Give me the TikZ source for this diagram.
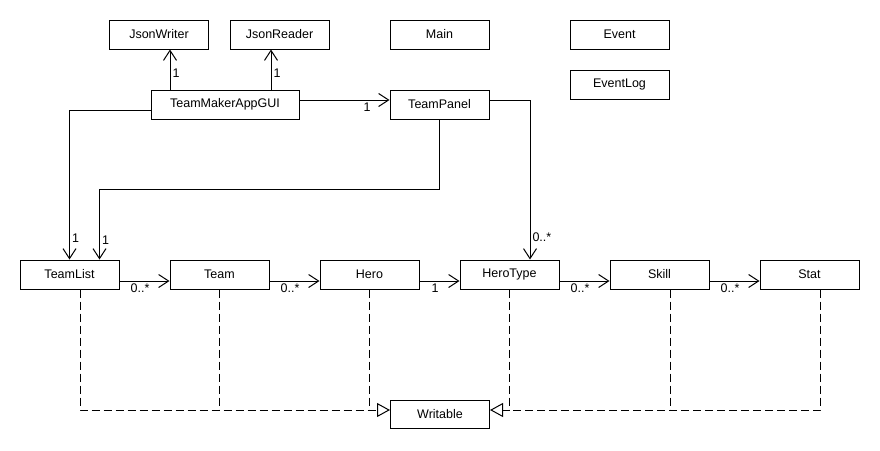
\documentclass[tikz,border=0pt]{standalone}
\usepackage{fontspec}
\setmainfont{Liberation Sans}
\usetikzlibrary{arrows.meta}

\begin{document}
\begin{tikzpicture}[x=1pt,y=-1pt,
	cls/.style={draw,line width=1pt,minimum width=99pt,minimum height=29pt,inner sep=0pt,font=\fontsize{12.5}{15}\selectfont},
	mult/.style={font=\fontsize{12.5}{15}\selectfont,inner sep=2pt},
	assoc/.style={line width=1pt,-{Straight Barb[length=10pt,width=13pt]}},
	realline/.style={line width=1pt,dash pattern=on 8pt off 4pt},
	real/.style={realline,-{Triangle[open,length=13pt,width=14pt]}}]
%			\draw[step=10,red,very thin] (0,0) grid (880,450);

			\useasboundingbox (0,0) rectangle (880,450);

			\node[cls] (JsonWriter) at (159,34.5) {JsonWriter};
			\node[cls] (JsonReader) at (279.5,34.5) {JsonReader};
			\node[cls] (Main) at (439.5,34.5) {Main};
			\node[cls] (Event) at (619.5,34.5) {Event};
			\node[cls] (EventLog) at (619.5,84.5) {EventLog};

			\node[cls,minimum width=148pt] (GUI) at (225,104.5) {TeamMakerAppGUI};
			\node[cls] (TeamPanel) at (439.5,104.5) {TeamPanel};

			\node[cls] (TeamList) at (69.5,274.5) {TeamList};
			\node[cls] (Team) at (219.5,274.5) {Team};
			\node[cls] (Hero) at (369.5,274.5) {Hero};
			\node[cls] (HeroType) at (509.5,274.5) {HeroType};
			\node[cls] (Skill) at (659.5,274.5) {Skill};
			\node[cls] (Stat) at (809.5,274.5) {Stat};

			\node[cls,minimum height=28pt] (Writable) at (440,414) {Writable};

			\coordinate (jw) at ([xshift=11]JsonWriter.south);
			\coordinate (jr) at ([xshift=-8.5]JsonReader.south);
			\draw[assoc] (jw |- GUI.north) -- (jw) node[mult,pos=.4,right] {1};
			\draw[assoc] (jr |- GUI.north) -- (jr) node[mult,pos=.4,right] {1};

			\draw[assoc] ([yshift=4.5]GUI.east) -- ([yshift=4.5]TeamPanel.west) node[mult,pos=.75,below] {1};
			\draw[assoc] ([yshift=4.5]TeamPanel.east) -| ([xshift=20.5]HeroType.north) node[mult,pos=.93,right] {0..*};
			\draw[assoc] ([yshift=-5.5]GUI.west) -| (TeamList.north) node[mult,pos=.93,right] {1};
			\draw[assoc] (TeamPanel.south) -- ++(0,70) -| ([xshift=30]TeamList.north) node[mult,pos=.86,right] {1};

			\draw[assoc] ([yshift=-6.5]TeamList.east) -- ([yshift=-6.5]Team.west) node[mult,pos=.41,below] {0..*};
			\draw[assoc] ([yshift=-6.5]Team.east) -- ([yshift=-6.5]Hero.west) node[mult,pos=.41,below] {0..*};
			\draw[assoc] ([yshift=-6.5]Hero.east) -- ([yshift=-6.5]HeroType.west) node[mult,pos=.39,below] {1};
			\draw[assoc] ([yshift=-6.5]HeroType.east) -- ([yshift=-6.5]Skill.west) node[mult,pos=.41,below] {0..*};
			\draw[assoc] ([yshift=-6.5]Skill.east) -- ([yshift=-6.5]Stat.west) node[mult,pos=.41,below] {0..*};

			\coordinate (wl) at ([yshift=4]Writable.west);
			\coordinate (wr) at ([yshift=4]Writable.east);
			\coordinate (sk) at ([xshift=10.5]Skill.south);
			\draw[real] ([xshift=10.5]TeamList.south) |- (wl);
			\draw[realline] (Team.south) -- (Team.south |- wl);
			\draw[realline] (Hero.south) -- (Hero.south |- wl);
			\draw[real] ([xshift=10.5]Stat.south) |- (wr);
			\draw[realline] (sk) -- (sk |- wr);
			\draw[realline] (HeroType.south) -- (HeroType.south |- wr);
\end{tikzpicture}
\end{document}
